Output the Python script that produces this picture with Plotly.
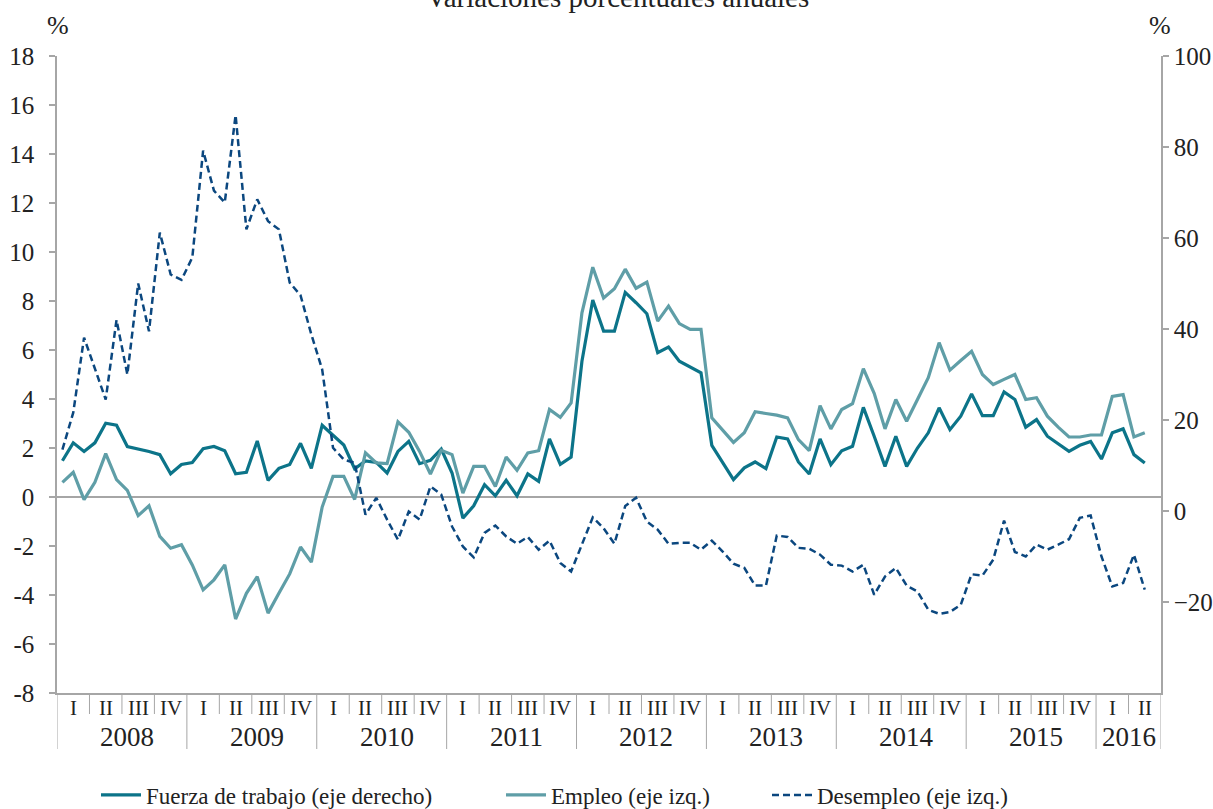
import plotly.graph_objects as go

# ---------------- data (monthly, Jan 2008 - May 2016) ----------------
years = ["2008", "2009", "2010", "2011", "2012", "2013", "2014", "2015", "2016"]
quarters_per_year = [4, 4, 4, 4, 4, 4, 4, 4, 2]
quarter_labels = ["I", "II", "III", "IV"]

fuerza = [1.48, 2.21, 1.86, 2.21, 3.01, 2.93, 2.06, 1.97, 1.86, 1.73, 0.95, 1.33,
          1.41, 1.97, 2.06, 1.89, 0.95, 1.01, 2.29, 0.68, 1.17, 1.33, 2.19, 1.17,
          2.93, 2.52, 2.12, 1.15, 1.47, 1.41, 0.98, 1.86, 2.27, 1.36, 1.50, 1.96,
          0.98, -0.86, -0.36, 0.50, 0.05, 0.68, 0.05, 0.94, 0.64, 2.37, 1.33, 1.63,
          5.54, 8.04, 6.77, 6.77, 8.35, 7.93, 7.48, 5.89, 6.12, 5.54, 5.31, 5.07,
          2.11, 1.43, 0.71, 1.19, 1.43, 1.16, 2.45, 2.37, 1.43, 0.94, 2.37, 1.32,
          1.89, 2.07, 3.66, 2.48, 1.25, 2.48, 1.25, 2.00, 2.62, 3.64, 2.75, 3.30,
          4.21, 3.32, 3.32, 4.29, 3.98, 2.85, 3.16, 2.48, 2.18, 1.86, 2.11, 2.27,
          1.55, 2.62, 2.78, 1.73, 1.39]

empleo = [0.60, 1.01, -0.11, 0.60, 1.77, 0.71, 0.27, -0.76, -0.36, -1.61, -2.09, -1.95,
          -2.77, -3.79, -3.38, -2.77, -4.98, -3.93, -3.25, -4.74, -3.93, -3.14, -2.04, -2.66,
          -0.41, 0.84, 0.84, -0.10, 1.80, 1.39, 1.36, 3.07, 2.64, 1.86, 0.94, 1.91,
          1.73, 0.16, 1.25, 1.25, 0.43, 1.63, 1.09, 1.80, 1.89, 3.57, 3.25, 3.84,
          7.52, 9.38, 8.12, 8.50, 9.30, 8.52, 8.77, 7.18, 7.79, 7.08, 6.84, 6.84,
          3.23, 2.75, 2.23, 2.62, 3.48, 3.41, 3.34, 3.23, 2.34, 1.89, 3.73, 2.78,
          3.57, 3.81, 5.24, 4.23, 2.78, 3.98, 3.09, 3.98, 4.87, 6.30, 5.18, 5.57,
          5.95, 5.00, 4.59, 4.80, 5.00, 3.98, 4.05, 3.30, 2.85, 2.45, 2.45, 2.53,
          2.53, 4.11, 4.18, 2.45, 2.62]

desempleo = [13.5, 21.6, 38.1, 31.2, 24.5, 42.0, 30.0, 50.0, 39.5, 61.2, 52.0, 50.8,
             55.7, 79.2, 70.4, 67.8, 87.0, 61.9, 68.5, 63.7, 61.9, 50.2, 47.4, 38.8,
             31.1, 13.9, 11.3, 10.6, -0.8, 2.9, -1.9, -6.3, -0.1, -1.9, 5.4, 3.6,
             -3.4, -7.8, -10.2, -4.8, -3.2, -5.6, -7.2, -5.7, -8.5, -6.5, -11.4, -13.3,
             -7.5, -1.4, -3.8, -7.2, 1.1, 2.9, -2.3, -4.1, -7.2, -7.0, -7.0, -8.5,
             -6.5, -8.9, -11.6, -12.5, -16.4, -16.4, -5.4, -5.7, -8.1, -8.3, -9.6, -11.8,
             -12.0, -13.3, -11.8, -18.4, -14.4, -12.5, -16.4, -17.7, -21.7, -22.6, -22.2, -20.6,
             -13.9, -14.2, -10.7, -2.1, -9.0, -10.0, -7.4, -8.5, -7.4, -6.2, -1.5, -1.0,
             -10.0, -16.6, -15.8, -9.6, -17.3]

left_ticks = list(range(-8, 19, 2))
left_ticktext = [str(v) for v in left_ticks]
right_ticks = [-20, 0, 20, 40, 60, 80, 100]
right_ticktext = [str(v).replace("-", "\u2212") for v in right_ticks]

# ---------------- figure ----------------
months = list(range(len(fuerza)))
n_slots = sum(quarters_per_year) * 3

C_FUERZA = "#0c7489"
C_EMPLEO = "#5f9ea7"
C_DESEMP = "#0b477f"
GRAY = "#a6a6a6"
FONT = "Liberation Serif"
TXT = "#222222"

W, H = 1213, 809
ML, MR, MT, MB = 57, 52, 56, 116
PW = W - ML - MR
PH = H - MT - MB
BOTTOM = H - MB


def pxx(px):
    return (px - ML) / PW


def pxy(py):
    return (BOTTOM - py) / PH


fig = go.Figure()
fig.add_trace(go.Scatter(x=months, y=fuerza, mode="lines", name="Fuerza de trabajo (eje derecho)",
                         line=dict(color=C_FUERZA, width=3.2), legend="legend"))
fig.add_trace(go.Scatter(x=months, y=empleo, mode="lines", name="Empleo (eje izq.)",
                         line=dict(color=C_EMPLEO, width=3.2), legend="legend2"))
fig.add_trace(go.Scatter(x=months, y=desempleo, mode="lines", name="Desempleo (eje izq.)",
                         yaxis="y2", line=dict(color=C_DESEMP, width=2.5, dash="7px,4px"),
                         legend="legend3"))

shapes = []
annotations = []

slot = 0
for k, (yr, nq) in enumerate(zip(years, quarters_per_year)):
    start = slot
    shapes.append(dict(type="line", xref="x", yref="paper", x0=start - 0.5, x1=start - 0.5,
                       y0=0, y1=pxy(BOTTOM + 56), line=dict(color=GRAY, width=1)))
    for q in range(nq):
        qs = start + 3 * q
        if q > 0:
            shapes.append(dict(type="line", xref="x", yref="paper", x0=qs - 0.5, x1=qs - 0.5,
                               y0=0, y1=pxy(BOTTOM + 21), line=dict(color=GRAY, width=1)))
        annotations.append(dict(xref="x", yref="paper", x=qs + 1, y=pxy(BOTTOM + 15),
                                text=quarter_labels[q], showarrow=False, xanchor="center",
                                yanchor="middle", font=dict(family=FONT, size=21, color=TXT)))
    annotations.append(dict(xref="x", yref="paper", x=start + nq * 3 / 2 - 0.5,
                            y=pxy(BOTTOM + 44), text=yr, showarrow=False, xanchor="center",
                            yanchor="middle", xshift=5 if nq == 4 else 0,
                            font=dict(family=FONT, size=27, color=TXT)))
    slot += nq * 3
shapes.append(dict(type="line", xref="x", yref="paper", x0=slot - 0.5, x1=slot - 0.5,
                   y0=0, y1=pxy(BOTTOM + 56), line=dict(color=GRAY, width=1)))

annotations.append(dict(xref="paper", yref="paper", x=pxx(617), y=pxy(15),
                        text="Variaciones porcentuales anuales", showarrow=False,
                        xanchor="center", yanchor="bottom",
                        font=dict(family=FONT, size=29, color=TXT)))
for xp in (58, 1160):
    annotations.append(dict(xref="paper", yref="paper", x=pxx(xp), y=pxy(25),
                            text="%", showarrow=False, xanchor="center", yanchor="middle",
                            font=dict(family=FONT, size=26, color=TXT)))

legend_common = dict(orientation="h", xref="container", yref="container", xanchor="left",
                     yanchor="middle", bgcolor="rgba(0,0,0,0)", borderwidth=0,
                     font=dict(family=FONT, size=23, color=TXT), itemwidth=40)
ly = 1 - 795 / H

fig.update_layout(
    width=W, height=H,
    margin=dict(l=ML, r=MR, t=MT, b=MB, autoexpand=False),
    plot_bgcolor="white", paper_bgcolor="white",
    showlegend=True,
    legend=dict(legend_common, x=96 / W, y=ly),
    legend2=dict(legend_common, x=501 / W, y=ly),
    legend3=dict(legend_common, x=767 / W, y=ly),
    xaxis=dict(range=[-0.5, n_slots - 0.5], showline=True, linecolor=GRAY, linewidth=1.5,
               showticklabels=False, ticks="", showgrid=False, zeroline=False, fixedrange=True,
               automargin=False),
    yaxis=dict(range=[-8, 18], tickvals=left_ticks, ticktext=left_ticktext, showline=True,
               linecolor=GRAY, linewidth=1.5, ticks="outside", ticklen=6, tickcolor=GRAY,
               tickwidth=1.5, showgrid=False, zeroline=True, zerolinecolor=GRAY,
               zerolinewidth=1.5, tickfont=dict(family=FONT, size=25, color=TXT),
               ticklabelstandoff=10, automargin=False),
    yaxis2=dict(range=[-40, 100], tickvals=right_ticks, ticktext=right_ticktext, overlaying="y",
                side="right", showline=True, linecolor=GRAY, linewidth=1.5, ticks="outside",
                ticklen=6, tickcolor=GRAY, tickwidth=1.5, showgrid=False, zeroline=False,
                tickfont=dict(family=FONT, size=25, color=TXT), automargin=False),
    shapes=shapes,
    annotations=annotations,
)

fig.write_html("out.html", config={"displayModeBar": False},
               post_script="document.body.style.margin='0px';document.body.style.overflow='hidden';")
